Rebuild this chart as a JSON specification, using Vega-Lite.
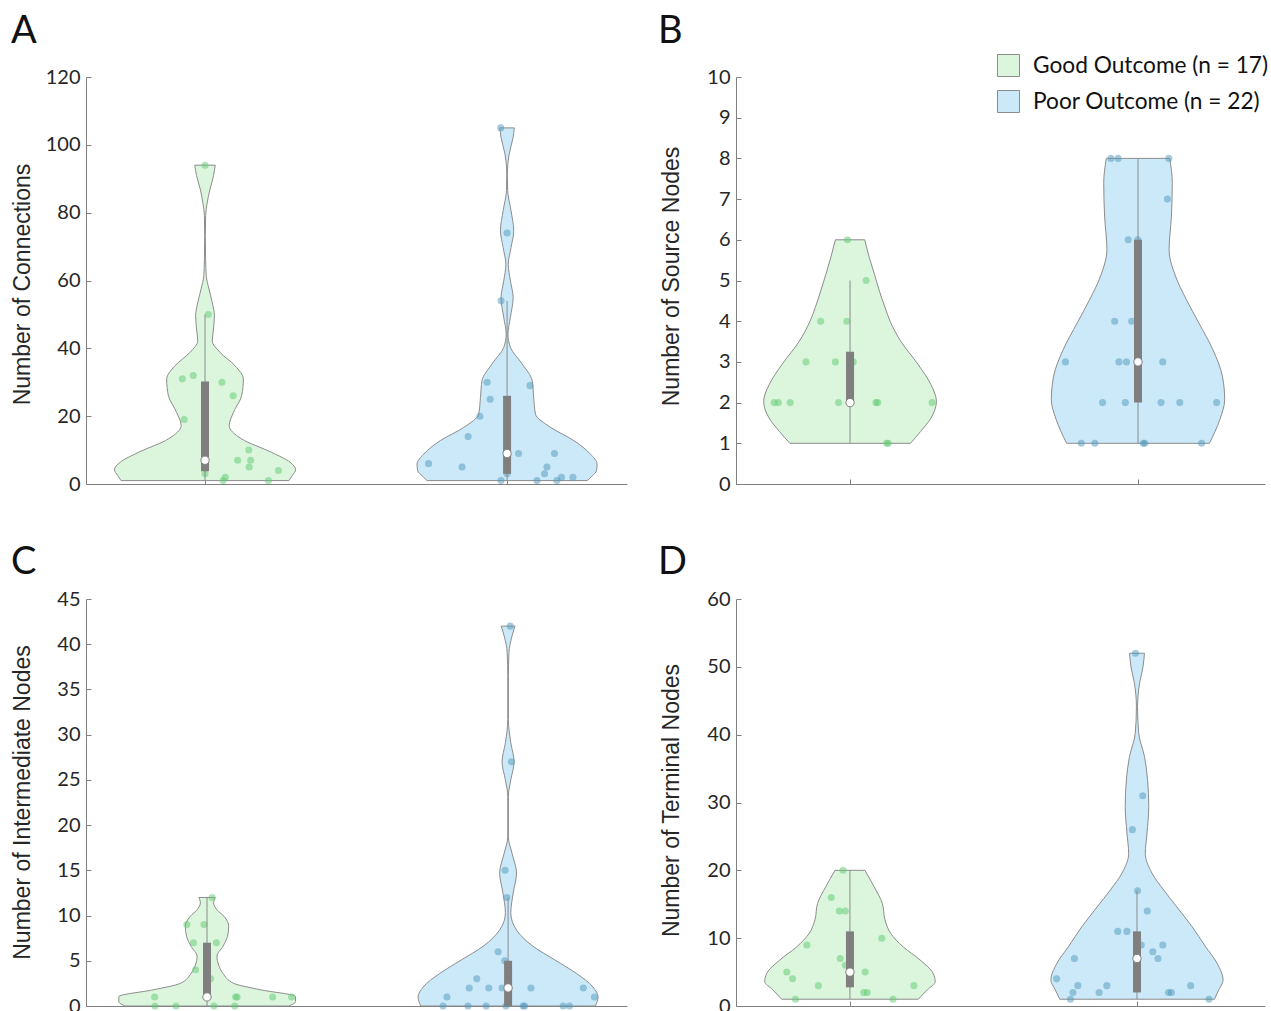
{
"$schema": "https://vega.github.io/schema/vega-lite/v6.json",
"padding": {"left": 11, "top": 13, "right": 0, "bottom": 0},
"background": "white",
"config": {
  "view": {"stroke": null},
  "axis": {"domainColor": "#808080", "tickColor": "#808080", "tickSize": -5, "grid": false,
    "labelFont": "Lato", "labelFontSize": 20, "labelColor": "#262626", "labelPadding": 11,
    "titleFont": "Liberation Sans", "titleFontSize": 23, "titleFontWeight": "normal", "titleColor": "#262626",
    "titleBaseline": "alphabetic", "titleAlign": "center"},
  "title": {"font": "Lato", "fontSize": 38, "fontWeight": "normal", "anchor": "start", "frame": "bounds", "baseline": "alphabetic", "color": "#111111", "dx": 0}
},
"datasets": {
"violin": [
{"p":"A","g":"Good","v":94,"lo":0.966,"hi":1.034},{"p":"A","g":"Good","v":90.9,"lo":0.972,"hi":1.028},{"p":"A","g":"Good","v":86.7,"lo":0.985,"hi":1.016},{"p":"A","g":"Good","v":82.8,"lo":0.993,"hi":1.007},{"p":"A","g":"Good","v":79.1,"lo":0.998,"hi":1.002},{"p":"A","g":"Good","v":73.2,"lo":0.999,"hi":1.001},{"p":"A","g":"Good","v":66.3,"lo":0.998,"hi":1.002},{"p":"A","g":"Good","v":61.4,"lo":0.996,"hi":1.004},{"p":"A","g":"Good","v":57.5,"lo":0.987,"hi":1.013},{"p":"A","g":"Good","v":53.5,"lo":0.976,"hi":1.024},{"p":"A","g":"Good","v":49.6,"lo":0.969,"hi":1.031},{"p":"A","g":"Good","v":45.7,"lo":0.972,"hi":1.028},{"p":"A","g":"Good","v":42.2,"lo":0.976,"hi":1.024},{"p":"A","g":"Good","v":38.8,"lo":0.95,"hi":1.05},{"p":"A","g":"Good","v":34.9,"lo":0.901,"hi":1.099},{"p":"A","g":"Good","v":30.9,"lo":0.873,"hi":1.127},{"p":"A","g":"Good","v":26,"lo":0.879,"hi":1.121},{"p":"A","g":"Good","v":21.1,"lo":0.906,"hi":1.094},{"p":"A","g":"Good","v":17.2,"lo":0.921,"hi":1.08},{"p":"A","g":"Good","v":13.3,"lo":0.879,"hi":1.121},{"p":"A","g":"Good","v":9.3,"lo":0.779,"hi":1.221},{"p":"A","g":"Good","v":6.4,"lo":0.719,"hi":1.282},{"p":"A","g":"Good","v":4.2,"lo":0.7,"hi":1.3},{"p":"A","g":"Good","v":2.5,"lo":0.711,"hi":1.289},{"p":"A","g":"Good","v":1,"lo":0.722,"hi":1.278},
{"p":"A","g":"Poor","v":105,"lo":1.976,"hi":2.024},{"p":"A","g":"Poor","v":102.2,"lo":1.98,"hi":2.02},{"p":"A","g":"Poor","v":97.3,"lo":1.993,"hi":2.007},{"p":"A","g":"Poor","v":91.4,"lo":1.999,"hi":2.001},{"p":"A","g":"Poor","v":86.5,"lo":1.998,"hi":2.002},{"p":"A","g":"Poor","v":80.6,"lo":1.987,"hi":2.013},{"p":"A","g":"Poor","v":74.7,"lo":1.978,"hi":2.022},{"p":"A","g":"Poor","v":69.7,"lo":1.987,"hi":2.013},{"p":"A","g":"Poor","v":64.8,"lo":1.996,"hi":2.004},{"p":"A","g":"Poor","v":59.9,"lo":1.989,"hi":2.011},{"p":"A","g":"Poor","v":55,"lo":1.98,"hi":2.02},{"p":"A","g":"Poor","v":49.1,"lo":1.989,"hi":2.011},{"p":"A","g":"Poor","v":44.2,"lo":1.997,"hi":2.003},{"p":"A","g":"Poor","v":40.3,"lo":1.989,"hi":2.011},{"p":"A","g":"Poor","v":35.4,"lo":1.95,"hi":2.05},{"p":"A","g":"Poor","v":30.5,"lo":1.917,"hi":2.083},{"p":"A","g":"Poor","v":25.6,"lo":1.912,"hi":2.088},{"p":"A","g":"Poor","v":20.6,"lo":1.906,"hi":2.094},{"p":"A","g":"Poor","v":16.7,"lo":1.857,"hi":2.144},{"p":"A","g":"Poor","v":12.8,"lo":1.779,"hi":2.221},{"p":"A","g":"Poor","v":8.8,"lo":1.724,"hi":2.276},{"p":"A","g":"Poor","v":5.9,"lo":1.702,"hi":2.298},{"p":"A","g":"Poor","v":3.9,"lo":1.704,"hi":2.296},{"p":"A","g":"Poor","v":2.4,"lo":1.719,"hi":2.282},{"p":"A","g":"Poor","v":1,"lo":1.735,"hi":2.265},
{"p":"B","g":"Good","v":6,"lo":0.949,"hi":1.051},{"p":"B","g":"Good","v":5.56,"lo":0.933,"hi":1.067},{"p":"B","g":"Good","v":5.15,"lo":0.916,"hi":1.085},{"p":"B","g":"Good","v":4.74,"lo":0.898,"hi":1.102},{"p":"B","g":"Good","v":4.33,"lo":0.879,"hi":1.122},{"p":"B","g":"Good","v":4,"lo":0.861,"hi":1.139},{"p":"B","g":"Good","v":3.51,"lo":0.824,"hi":1.176},{"p":"B","g":"Good","v":2.93,"lo":0.763,"hi":1.237},{"p":"B","g":"Good","v":2.44,"lo":0.719,"hi":1.281},{"p":"B","g":"Good","v":2.03,"lo":0.7,"hi":1.3},{"p":"B","g":"Good","v":1.62,"lo":0.719,"hi":1.281},{"p":"B","g":"Good","v":1.29,"lo":0.755,"hi":1.245},{"p":"B","g":"Good","v":1,"lo":0.791,"hi":1.21},
{"p":"B","g":"Poor","v":8,"lo":1.89,"hi":2.11},{"p":"B","g":"Poor","v":7.41,"lo":1.881,"hi":2.119},{"p":"B","g":"Poor","v":6.58,"lo":1.884,"hi":2.116},{"p":"B","g":"Poor","v":5.76,"lo":1.892,"hi":2.108},{"p":"B","g":"Poor","v":5.11,"lo":1.87,"hi":2.13},{"p":"B","g":"Poor","v":4.53,"lo":1.832,"hi":2.168},{"p":"B","g":"Poor","v":3.96,"lo":1.789,"hi":2.211},{"p":"B","g":"Poor","v":3.3,"lo":1.74,"hi":2.26},{"p":"B","g":"Poor","v":2.65,"lo":1.707,"hi":2.293},{"p":"B","g":"Poor","v":2.07,"lo":1.699,"hi":2.301},{"p":"B","g":"Poor","v":1.58,"lo":1.716,"hi":2.284},{"p":"B","g":"Poor","v":1,"lo":1.752,"hi":2.248},
{"p":"C","g":"Good","v":12,"lo":0.973,"hi":1.027},{"p":"C","g":"Good","v":11.4,"lo":0.978,"hi":1.022},{"p":"C","g":"Good","v":10.6,"lo":0.966,"hi":1.034},{"p":"C","g":"Good","v":9.9,"lo":0.944,"hi":1.057},{"p":"C","g":"Good","v":8.8,"lo":0.928,"hi":1.072},{"p":"C","g":"Good","v":7.7,"lo":0.932,"hi":1.068},{"p":"C","g":"Good","v":6.6,"lo":0.947,"hi":1.053},{"p":"C","g":"Good","v":5.5,"lo":0.967,"hi":1.033},{"p":"C","g":"Good","v":4.5,"lo":0.961,"hi":1.039},{"p":"C","g":"Good","v":3.6,"lo":0.947,"hi":1.053},{"p":"C","g":"Good","v":2.5,"lo":0.911,"hi":1.089},{"p":"C","g":"Good","v":1.8,"lo":0.823,"hi":1.177},{"p":"C","g":"Good","v":1.04,"lo":0.707,"hi":1.294},{"p":"C","g":"Good","v":0.48,"lo":0.707,"hi":1.294},{"p":"C","g":"Good","v":0,"lo":0.729,"hi":1.271},
{"p":"C","g":"Poor","v":42,"lo":1.977,"hi":2.023},{"p":"C","g":"Poor","v":40.9,"lo":1.987,"hi":2.013},{"p":"C","g":"Poor","v":39.1,"lo":1.997,"hi":2.003},{"p":"C","g":"Poor","v":36.5,"lo":1.999,"hi":2.001},{"p":"C","g":"Poor","v":31.7,"lo":1.999,"hi":2.001},{"p":"C","g":"Poor","v":29.1,"lo":1.991,"hi":2.009},{"p":"C","g":"Poor","v":27,"lo":1.98,"hi":2.02},{"p":"C","g":"Poor","v":25,"lo":1.991,"hi":2.009},{"p":"C","g":"Poor","v":23.2,"lo":1.999,"hi":2.001},{"p":"C","g":"Poor","v":18.7,"lo":1.999,"hi":2.001},{"p":"C","g":"Poor","v":16.9,"lo":1.987,"hi":2.013},{"p":"C","g":"Poor","v":14.7,"lo":1.972,"hi":2.028},{"p":"C","g":"Poor","v":12.5,"lo":1.983,"hi":2.017},{"p":"C","g":"Poor","v":10.3,"lo":1.991,"hi":2.009},{"p":"C","g":"Poor","v":8.4,"lo":1.972,"hi":2.028},{"p":"C","g":"Poor","v":6.6,"lo":1.917,"hi":2.083},{"p":"C","g":"Poor","v":5.1,"lo":1.845,"hi":2.155},{"p":"C","g":"Poor","v":3.6,"lo":1.773,"hi":2.227},{"p":"C","g":"Poor","v":2.1,"lo":1.718,"hi":2.282},{"p":"C","g":"Poor","v":1,"lo":1.701,"hi":2.299},{"p":"C","g":"Poor","v":0,"lo":1.71,"hi":2.29},
{"p":"D","g":"Good","v":20,"lo":0.948,"hi":1.052},{"p":"D","g":"Good","v":17.6,"lo":0.916,"hi":1.084},{"p":"D","g":"Good","v":15.1,"lo":0.887,"hi":1.113},{"p":"D","g":"Good","v":12.7,"lo":0.878,"hi":1.122},{"p":"D","g":"Good","v":10.7,"lo":0.858,"hi":1.142},{"p":"D","g":"Good","v":8.7,"lo":0.814,"hi":1.186},{"p":"D","g":"Good","v":6.8,"lo":0.756,"hi":1.244},{"p":"D","g":"Good","v":4.8,"lo":0.71,"hi":1.29},{"p":"D","g":"Good","v":3.6,"lo":0.703,"hi":1.297},{"p":"D","g":"Good","v":2.4,"lo":0.731,"hi":1.27},{"p":"D","g":"Good","v":1,"lo":0.762,"hi":1.238},
{"p":"D","g":"Poor","v":52,"lo":1.974,"hi":2.026},{"p":"D","g":"Poor","v":50,"lo":1.979,"hi":2.021},{"p":"D","g":"Poor","v":47.6,"lo":1.991,"hi":2.009},{"p":"D","g":"Poor","v":44.1,"lo":1.998,"hi":2.002},{"p":"D","g":"Poor","v":40.2,"lo":1.994,"hi":2.006},{"p":"D","g":"Poor","v":36.8,"lo":1.974,"hi":2.026},{"p":"D","g":"Poor","v":33.3,"lo":1.963,"hi":2.037},{"p":"D","g":"Poor","v":29.4,"lo":1.959,"hi":2.041},{"p":"D","g":"Poor","v":25.5,"lo":1.965,"hi":2.035},{"p":"D","g":"Poor","v":22.5,"lo":1.971,"hi":2.029},{"p":"D","g":"Poor","v":19.6,"lo":1.948,"hi":2.052},{"p":"D","g":"Poor","v":17.1,"lo":1.907,"hi":2.093},{"p":"D","g":"Poor","v":14.6,"lo":1.861,"hi":2.139},{"p":"D","g":"Poor","v":11.7,"lo":1.808,"hi":2.192},{"p":"D","g":"Poor","v":8.8,"lo":1.762,"hi":2.238},{"p":"D","g":"Poor","v":6.3,"lo":1.721,"hi":2.279},{"p":"D","g":"Poor","v":3.8,"lo":1.7,"hi":2.3},{"p":"D","g":"Poor","v":2.4,"lo":1.715,"hi":2.285},{"p":"D","g":"Poor","v":1,"lo":1.731,"hi":2.27}
],
"pts": [
{"p":"A","g":"Good","v":94,"xj":1.0},{"p":"A","g":"Good","v":50,"xj":1.011},{"p":"A","g":"Good","v":31,"xj":0.925},{"p":"A","g":"Good","v":32,"xj":0.961},{"p":"A","g":"Good","v":30,"xj":1.056},{"p":"A","g":"Good","v":26,"xj":1.093},{"p":"A","g":"Good","v":19,"xj":0.931},{"p":"A","g":"Good","v":10,"xj":1.145},{"p":"A","g":"Good","v":7,"xj":1.108},{"p":"A","g":"Good","v":7,"xj":1.151},{"p":"A","g":"Good","v":5,"xj":1.146},{"p":"A","g":"Good","v":4,"xj":1.243},{"p":"A","g":"Good","v":3,"xj":1.0},{"p":"A","g":"Good","v":2,"xj":1.067},{"p":"A","g":"Good","v":1,"xj":1.06},{"p":"A","g":"Good","v":1,"xj":1.21},{"p":"A","g":"Good","v":6,"xj":1.0},
{"p":"A","g":"Poor","v":105,"xj":1.979},{"p":"A","g":"Poor","v":74,"xj":2.0},{"p":"A","g":"Poor","v":54,"xj":1.98},{"p":"A","g":"Poor","v":30,"xj":1.934},{"p":"A","g":"Poor","v":29,"xj":2.076},{"p":"A","g":"Poor","v":25,"xj":1.944},{"p":"A","g":"Poor","v":20,"xj":1.91},{"p":"A","g":"Poor","v":14,"xj":1.871},{"p":"A","g":"Poor","v":9,"xj":2.038},{"p":"A","g":"Poor","v":9,"xj":2.157},{"p":"A","g":"Poor","v":6,"xj":1.74},{"p":"A","g":"Poor","v":5,"xj":1.851},{"p":"A","g":"Poor","v":5,"xj":2.132},{"p":"A","g":"Poor","v":3,"xj":2.124},{"p":"A","g":"Poor","v":2,"xj":2.18},{"p":"A","g":"Poor","v":2,"xj":2.218},{"p":"A","g":"Poor","v":1,"xj":1.98},{"p":"A","g":"Poor","v":1,"xj":2.099},{"p":"A","g":"Poor","v":1,"xj":2.165},{"p":"A","g":"Poor","v":9,"xj":2.0},{"p":"A","g":"Poor","v":4,"xj":2.0},{"p":"A","g":"Poor","v":3,"xj":2.0},
{"p":"B","g":"Good","v":6,"xj":0.991},{"p":"B","g":"Good","v":5,"xj":1.056},{"p":"B","g":"Good","v":4,"xj":0.898},{"p":"B","g":"Good","v":4,"xj":0.989},{"p":"B","g":"Good","v":3,"xj":0.847},{"p":"B","g":"Good","v":3,"xj":0.949},{"p":"B","g":"Good","v":3,"xj":1.011},{"p":"B","g":"Good","v":2,"xj":0.737},{"p":"B","g":"Good","v":2,"xj":0.751},{"p":"B","g":"Good","v":2,"xj":0.792},{"p":"B","g":"Good","v":2,"xj":0.96},{"p":"B","g":"Good","v":2,"xj":1.09},{"p":"B","g":"Good","v":2,"xj":1.096},{"p":"B","g":"Good","v":2,"xj":1.285},{"p":"B","g":"Good","v":1,"xj":1.127},{"p":"B","g":"Good","v":1,"xj":1.133},{"p":"B","g":"Good","v":2,"xj":1.0},
{"p":"B","g":"Poor","v":8,"xj":1.906},{"p":"B","g":"Poor","v":8,"xj":1.931},{"p":"B","g":"Poor","v":8,"xj":2.107},{"p":"B","g":"Poor","v":7,"xj":2.102},{"p":"B","g":"Poor","v":6,"xj":1.966},{"p":"B","g":"Poor","v":6,"xj":1.999},{"p":"B","g":"Poor","v":4,"xj":1.919},{"p":"B","g":"Poor","v":4,"xj":1.978},{"p":"B","g":"Poor","v":3,"xj":1.748},{"p":"B","g":"Poor","v":3,"xj":1.934},{"p":"B","g":"Poor","v":3,"xj":1.96},{"p":"B","g":"Poor","v":3,"xj":2.086},{"p":"B","g":"Poor","v":2,"xj":1.877},{"p":"B","g":"Poor","v":2,"xj":1.956},{"p":"B","g":"Poor","v":2,"xj":2.08},{"p":"B","g":"Poor","v":2,"xj":2.145},{"p":"B","g":"Poor","v":2,"xj":2.273},{"p":"B","g":"Poor","v":1,"xj":1.803},{"p":"B","g":"Poor","v":1,"xj":1.85},{"p":"B","g":"Poor","v":1,"xj":2.018},{"p":"B","g":"Poor","v":1,"xj":2.024},{"p":"B","g":"Poor","v":1,"xj":2.221},
{"p":"C","g":"Good","v":12,"xj":1.017},{"p":"C","g":"Good","v":9,"xj":0.933},{"p":"C","g":"Good","v":9,"xj":0.99},{"p":"C","g":"Good","v":7,"xj":0.955},{"p":"C","g":"Good","v":7,"xj":1.031},{"p":"C","g":"Good","v":4,"xj":0.962},{"p":"C","g":"Good","v":3,"xj":1.012},{"p":"C","g":"Good","v":1,"xj":0.826},{"p":"C","g":"Good","v":1,"xj":1.095},{"p":"C","g":"Good","v":1,"xj":1.1},{"p":"C","g":"Good","v":1,"xj":1.218},{"p":"C","g":"Good","v":1,"xj":1.281},{"p":"C","g":"Good","v":0,"xj":0.827},{"p":"C","g":"Good","v":0,"xj":0.897},{"p":"C","g":"Good","v":0,"xj":1.023},{"p":"C","g":"Good","v":0,"xj":1.092},{"p":"C","g":"Good","v":1,"xj":1.0},
{"p":"C","g":"Poor","v":42,"xj":2.007},{"p":"C","g":"Poor","v":27,"xj":2.011},{"p":"C","g":"Poor","v":15,"xj":1.99},{"p":"C","g":"Poor","v":12,"xj":1.996},{"p":"C","g":"Poor","v":6,"xj":1.967},{"p":"C","g":"Poor","v":5,"xj":1.989},{"p":"C","g":"Poor","v":3,"xj":1.896},{"p":"C","g":"Poor","v":2,"xj":1.871},{"p":"C","g":"Poor","v":2,"xj":1.936},{"p":"C","g":"Poor","v":2,"xj":1.98},{"p":"C","g":"Poor","v":2,"xj":2.076},{"p":"C","g":"Poor","v":2,"xj":2.25},{"p":"C","g":"Poor","v":1,"xj":1.797},{"p":"C","g":"Poor","v":1,"xj":2.287},{"p":"C","g":"Poor","v":0,"xj":1.784},{"p":"C","g":"Poor","v":0,"xj":1.867},{"p":"C","g":"Poor","v":0,"xj":1.927},{"p":"C","g":"Poor","v":0,"xj":1.993},{"p":"C","g":"Poor","v":0,"xj":2.05},{"p":"C","g":"Poor","v":0,"xj":2.055},{"p":"C","g":"Poor","v":0,"xj":2.183},{"p":"C","g":"Poor","v":0,"xj":2.204},
{"p":"D","g":"Good","v":20,"xj":0.976},{"p":"D","g":"Good","v":16,"xj":0.935},{"p":"D","g":"Good","v":14,"xj":0.963},{"p":"D","g":"Good","v":14,"xj":0.984},{"p":"D","g":"Good","v":10,"xj":1.111},{"p":"D","g":"Good","v":9,"xj":0.85},{"p":"D","g":"Good","v":7,"xj":0.966},{"p":"D","g":"Good","v":6,"xj":0.984},{"p":"D","g":"Good","v":5,"xj":0.78},{"p":"D","g":"Good","v":5,"xj":1.053},{"p":"D","g":"Good","v":4,"xj":0.8},{"p":"D","g":"Good","v":3,"xj":0.89},{"p":"D","g":"Good","v":3,"xj":1.223},{"p":"D","g":"Good","v":2,"xj":1.048},{"p":"D","g":"Good","v":2,"xj":1.06},{"p":"D","g":"Good","v":1,"xj":0.81},{"p":"D","g":"Good","v":1,"xj":1.15},
{"p":"D","g":"Poor","v":52,"xj":1.995},{"p":"D","g":"Poor","v":31,"xj":2.02},{"p":"D","g":"Poor","v":26,"xj":1.984},{"p":"D","g":"Poor","v":17,"xj":2.002},{"p":"D","g":"Poor","v":14,"xj":2.036},{"p":"D","g":"Poor","v":11,"xj":1.933},{"p":"D","g":"Poor","v":11,"xj":1.965},{"p":"D","g":"Poor","v":9,"xj":2.015},{"p":"D","g":"Poor","v":9,"xj":2.09},{"p":"D","g":"Poor","v":8,"xj":2.055},{"p":"D","g":"Poor","v":7,"xj":2.073},{"p":"D","g":"Poor","v":7,"xj":1.782},{"p":"D","g":"Poor","v":4,"xj":1.72},{"p":"D","g":"Poor","v":3,"xj":1.794},{"p":"D","g":"Poor","v":3,"xj":1.895},{"p":"D","g":"Poor","v":3,"xj":2.187},{"p":"D","g":"Poor","v":2,"xj":1.777},{"p":"D","g":"Poor","v":2,"xj":1.868},{"p":"D","g":"Poor","v":2,"xj":2.11},{"p":"D","g":"Poor","v":2,"xj":2.12},{"p":"D","g":"Poor","v":1,"xj":1.768},{"p":"D","g":"Poor","v":1,"xj":2.251}
],
"box": [
{"p":"A","g":"Good","c":1,"q1":3.75,"q3":30.25,"med":7,"wl":1,"wh":50},
{"p":"A","g":"Poor","c":2,"q1":3,"q3":26,"med":9,"wl":1,"wh":54},
{"p":"B","g":"Good","c":1,"q1":2,"q3":3.25,"med":2,"wl":1,"wh":5},
{"p":"B","g":"Poor","c":2,"q1":2,"q3":6,"med":3,"wl":1,"wh":8},
{"p":"C","g":"Good","c":1,"q1":0.75,"q3":7,"med":1,"wl":0,"wh":12},
{"p":"C","g":"Poor","c":2,"q1":0,"q3":5,"med":2,"wl":0,"wh":12},
{"p":"D","g":"Good","c":1,"q1":2.75,"q3":11,"med":5,"wl":1,"wh":20},
{"p":"D","g":"Poor","c":2,"q1":2,"q3":11,"med":7,"wl":1,"wh":17}
]
},
"columns": 2,
"bounds": "flush",
"spacing": {"row": 115, "column": 109},
"resolve": {"scale": {"fill": "independent", "color": "independent"}},
"concat": [
{
 "width": 541, "height": 407,
 "title": {"text": "A", "offset": 16, "dx": 0},
 "layer": [
  {"data": {"name": "violin"}, "transform": [{"filter": "datum.p == 'A'"}],
   "mark": {"type": "area", "orient": "horizontal", "interpolate": "monotone", "stroke": "#8c8c8c", "strokeWidth": 1},
   "encoding": {
    "y": {"field": "v", "type": "quantitative", "scale": {"domain": [0, 120], "nice": false}, "axis": {"values": [0,20,40,60,80,100,120], "title": "Number of Connections", "titleX": -57, "titleY": 207}},
    "x": {"field": "lo", "type": "quantitative", "scale": {"domain": [0.606, 2.397], "nice": false, "zero": false}, "axis": {"values": [1,2], "labels": false, "title": null}},
    "x2": {"field": "hi"},
    "fill": {"field": "g", "type": "nominal", "scale": {"domain": ["Good","Poor"], "range": ["#dbf6dc","#cbe9f9"]}, "legend": null}
   }},
  {"data": {"name": "pts"}, "transform": [{"filter": "datum.p == 'A'"}],
   "mark": {"type": "circle", "size": 50, "opacity": 0.5},
   "encoding": {"x": {"field": "xj", "type": "quantitative"}, "y": {"field": "v", "type": "quantitative"},
    "color": {"field": "g", "type": "nominal", "scale": {"domain": ["Good","Poor"], "range": ["#5fca72","#4f97ba"]}, "legend": null}}},
  {"data": {"name": "box"}, "transform": [{"filter": "datum.p == 'A'"}],
   "mark": {"type": "rule", "color": "#8c8c8c", "strokeWidth": 1},
   "encoding": {"x": {"field": "c", "type": "quantitative"}, "y": {"field": "wl", "type": "quantitative"}, "y2": {"field": "wh"}}},
  {"data": {"name": "box"}, "transform": [{"filter": "datum.p == 'A'"}],
   "mark": {"type": "rule", "color": "#7f7f7f", "strokeWidth": 8},
   "encoding": {"x": {"field": "c", "type": "quantitative"}, "y": {"field": "q1", "type": "quantitative"}, "y2": {"field": "q3"}}},
  {"data": {"name": "box"}, "transform": [{"filter": "datum.p == 'A'"}],
   "mark": {"type": "point", "shape": "circle", "filled": true, "fill": "white", "stroke": "#808080", "strokeWidth": 1, "size": 70, "opacity": 1},
   "encoding": {"x": {"field": "c", "type": "quantitative"}, "y": {"field": "med", "type": "quantitative"}}}
 ]
},
{
 "width": 529, "height": 407,
 "title": {"text": "B", "offset": 3, "dx": -2},
 "layer": [
  {"data": {"name": "violin"}, "transform": [{"filter": "datum.p == 'B'"}],
   "mark": {"type": "area", "orient": "horizontal", "interpolate": "monotone", "stroke": "#8c8c8c", "strokeWidth": 1},
   "encoding": {
    "y": {"field": "v", "type": "quantitative", "scale": {"domain": [0, 10], "nice": false}, "axis": {"values": [0,1,2,3,4,5,6,7,8,9,10], "title": "Number of Source Nodes", "titleX": -58, "titleY": 199}},
    "x": {"field": "lo", "type": "quantitative", "scale": {"domain": [0.604, 2.441], "nice": false, "zero": false}, "axis": {"values": [1,2], "labels": false, "title": null}},
    "x2": {"field": "hi"},
    "fill": {"field": "g", "type": "nominal", "scale": {"domain": ["Good","Poor"], "range": ["#dbf6dc","#cbe9f9"]},
      "legend": {"orient": "none", "legendX": 261, "legendY": -23, "title": null, "symbolType": "square", "symbolSize": 484, "symbolStrokeColor": "#8c8c8c", "symbolStrokeWidth": 1, "symbolOpacity": 1, "labelFont": "Lato", "labelFontSize": 22.7, "labelColor": "#111111", "labelOffset": 13, "labelLimit": 400, "rowPadding": 9, "padding": 0,
        "labelExpr": "datum.label == 'Good' ? 'Good Outcome (n = 17)' : 'Poor Outcome (n = 22)'"}}
   }},
  {"data": {"name": "pts"}, "transform": [{"filter": "datum.p == 'B'"}],
   "mark": {"type": "circle", "size": 50, "opacity": 0.5},
   "encoding": {"x": {"field": "xj", "type": "quantitative"}, "y": {"field": "v", "type": "quantitative"},
    "color": {"field": "g", "type": "nominal", "scale": {"domain": ["Good","Poor"], "range": ["#5fca72","#4f97ba"]}, "legend": null}}},
  {"data": {"name": "box"}, "transform": [{"filter": "datum.p == 'B'"}],
   "mark": {"type": "rule", "color": "#8c8c8c", "strokeWidth": 1},
   "encoding": {"x": {"field": "c", "type": "quantitative"}, "y": {"field": "wl", "type": "quantitative"}, "y2": {"field": "wh"}}},
  {"data": {"name": "box"}, "transform": [{"filter": "datum.p == 'B'"}],
   "mark": {"type": "rule", "color": "#7f7f7f", "strokeWidth": 8},
   "encoding": {"x": {"field": "c", "type": "quantitative"}, "y": {"field": "q1", "type": "quantitative"}, "y2": {"field": "q3"}}},
  {"data": {"name": "box"}, "transform": [{"filter": "datum.p == 'B'"}],
   "mark": {"type": "point", "shape": "circle", "filled": true, "fill": "white", "stroke": "#808080", "strokeWidth": 1, "size": 70, "opacity": 1},
   "encoding": {"x": {"field": "c", "type": "quantitative"}, "y": {"field": "med", "type": "quantitative"}}}
 ]
},
{
 "width": 541, "height": 407,
 "title": {"text": "C", "offset": 7, "dx": 0},
 "layer": [
  {"data": {"name": "violin"}, "transform": [{"filter": "datum.p == 'C'"}],
   "mark": {"type": "area", "orient": "horizontal", "interpolate": "monotone", "stroke": "#8c8c8c", "strokeWidth": 1},
   "encoding": {
    "y": {"field": "v", "type": "quantitative", "scale": {"domain": [0, 45], "nice": false}, "axis": {"values": [0,5,10,15,20,25,30,35,40,45], "title": "Number of Intermediate Nodes", "titleX": -57, "titleY": 203}},
    "x": {"field": "lo", "type": "quantitative", "scale": {"domain": [0.598, 2.395], "nice": false, "zero": false}, "axis": {"values": [1,2], "labels": false, "title": null}},
    "x2": {"field": "hi"},
    "fill": {"field": "g", "type": "nominal", "scale": {"domain": ["Good","Poor"], "range": ["#dbf6dc","#cbe9f9"]}, "legend": null}
   }},
  {"data": {"name": "pts"}, "transform": [{"filter": "datum.p == 'C'"}],
   "mark": {"type": "circle", "size": 50, "opacity": 0.5},
   "encoding": {"x": {"field": "xj", "type": "quantitative"}, "y": {"field": "v", "type": "quantitative"},
    "color": {"field": "g", "type": "nominal", "scale": {"domain": ["Good","Poor"], "range": ["#5fca72","#4f97ba"]}, "legend": null}}},
  {"data": {"name": "box"}, "transform": [{"filter": "datum.p == 'C'"}],
   "mark": {"type": "rule", "color": "#8c8c8c", "strokeWidth": 1},
   "encoding": {"x": {"field": "c", "type": "quantitative"}, "y": {"field": "wl", "type": "quantitative"}, "y2": {"field": "wh"}}},
  {"data": {"name": "box"}, "transform": [{"filter": "datum.p == 'C'"}],
   "mark": {"type": "rule", "color": "#7f7f7f", "strokeWidth": 8},
   "encoding": {"x": {"field": "c", "type": "quantitative"}, "y": {"field": "q1", "type": "quantitative"}, "y2": {"field": "q3"}}},
  {"data": {"name": "box"}, "transform": [{"filter": "datum.p == 'C'"}],
   "mark": {"type": "point", "shape": "circle", "filled": true, "fill": "white", "stroke": "#808080", "strokeWidth": 1, "size": 70, "opacity": 1},
   "encoding": {"x": {"field": "c", "type": "quantitative"}, "y": {"field": "med", "type": "quantitative"}}}
 ]
},
{
 "width": 529, "height": 407,
 "title": {"text": "D", "offset": 7, "dx": -2},
 "layer": [
  {"data": {"name": "violin"}, "transform": [{"filter": "datum.p == 'D'"}],
   "mark": {"type": "area", "orient": "horizontal", "interpolate": "monotone", "stroke": "#8c8c8c", "strokeWidth": 1},
   "encoding": {
    "y": {"field": "v", "type": "quantitative", "scale": {"domain": [0, 60], "nice": false}, "axis": {"values": [0,10,20,30,40,50,60], "title": "Number of Terminal Nodes", "titleX": -58, "titleY": 201}},
    "x": {"field": "lo", "type": "quantitative", "scale": {"domain": [0.603, 2.446], "nice": false, "zero": false}, "axis": {"values": [1,2], "labels": false, "title": null}},
    "x2": {"field": "hi"},
    "fill": {"field": "g", "type": "nominal", "scale": {"domain": ["Good","Poor"], "range": ["#dbf6dc","#cbe9f9"]}, "legend": null}
   }},
  {"data": {"name": "pts"}, "transform": [{"filter": "datum.p == 'D'"}],
   "mark": {"type": "circle", "size": 50, "opacity": 0.5},
   "encoding": {"x": {"field": "xj", "type": "quantitative"}, "y": {"field": "v", "type": "quantitative"},
    "color": {"field": "g", "type": "nominal", "scale": {"domain": ["Good","Poor"], "range": ["#5fca72","#4f97ba"]}, "legend": null}}},
  {"data": {"name": "box"}, "transform": [{"filter": "datum.p == 'D'"}],
   "mark": {"type": "rule", "color": "#8c8c8c", "strokeWidth": 1},
   "encoding": {"x": {"field": "c", "type": "quantitative"}, "y": {"field": "wl", "type": "quantitative"}, "y2": {"field": "wh"}}},
  {"data": {"name": "box"}, "transform": [{"filter": "datum.p == 'D'"}],
   "mark": {"type": "rule", "color": "#7f7f7f", "strokeWidth": 8},
   "encoding": {"x": {"field": "c", "type": "quantitative"}, "y": {"field": "q1", "type": "quantitative"}, "y2": {"field": "q3"}}},
  {"data": {"name": "box"}, "transform": [{"filter": "datum.p == 'D'"}],
   "mark": {"type": "point", "shape": "circle", "filled": true, "fill": "white", "stroke": "#808080", "strokeWidth": 1, "size": 70, "opacity": 1},
   "encoding": {"x": {"field": "c", "type": "quantitative"}, "y": {"field": "med", "type": "quantitative"}}}
 ]
}
]
}
